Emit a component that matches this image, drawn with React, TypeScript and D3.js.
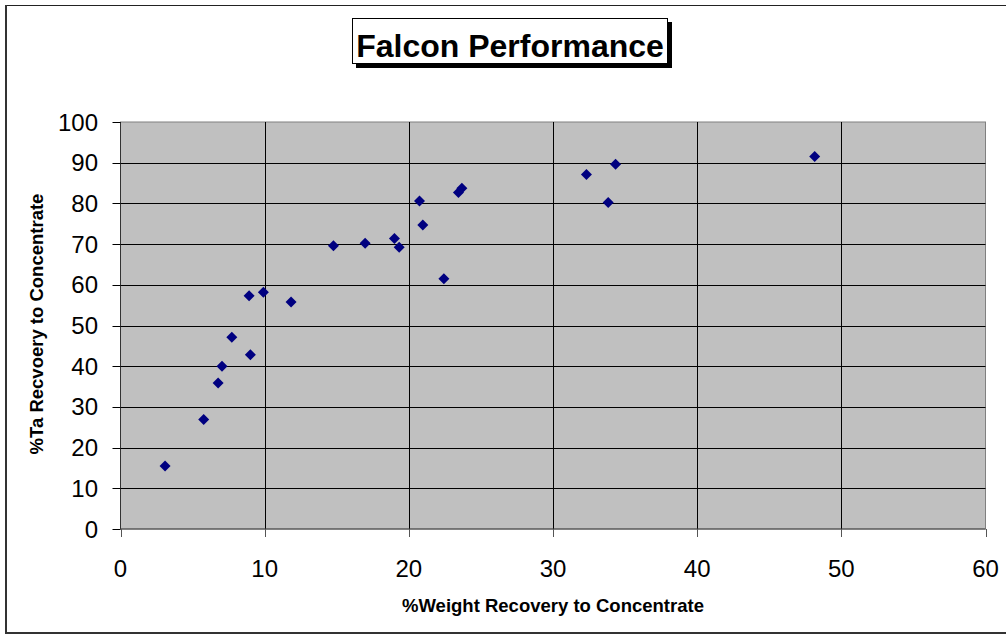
import * as d3 from 'd3';

const weightRecovery = [3.09, 5.77, 6.77, 7.04, 7.72, 9.01, 8.92, 9.91, 11.83, 14.77, 16.97, 19.0, 19.33, 20.74, 20.97, 22.43, 23.44, 23.68, 32.32, 34.34, 33.83, 48.15];
const taRecovery = [15.5, 26.9, 35.9, 40.0, 47.1, 42.8, 57.3, 58.2, 55.8, 69.6, 70.2, 71.4, 69.2, 80.6, 74.7, 61.5, 82.7, 83.7, 87.1, 89.6, 80.2, 91.5];
const xTicks = [0, 10, 20, 30, 40, 50, 60];
const yTicks = [0, 10, 20, 30, 40, 50, 60, 70, 80, 90, 100];

const W = 1006;
const H = 635;
const plot = { left: 120.5, right: 985.5, top: 122, bottom: 529 };

export default function App() {
  const x = d3.scaleLinear().domain([0, 60]).range([plot.left, plot.right]);
  const y = d3.scaleLinear().domain([0, 100]).range([plot.bottom, plot.top]);
  // square diamond marker
  const r = 5.5;
  const diamond = d3.line()([[0, -r], [r, 0], [0, r], [-r, 0], [0, -r]]) + 'Z';
  const font = 'Arial, "Liberation Sans", sans-serif';

  return (
    <svg width={W} height={H} style={{ position: 'absolute', left: 0, top: 0 }} fontFamily={font}>
      <rect x={0} y={0} width={W} height={H} fill="#fff" />
      {/* chart frame */}
      <line x1={5.5} x2={W} y1={5.5} y2={5.5} stroke="#222" />
      <line x1={6} x2={6} y1={5} y2={634} stroke="#333" strokeWidth={2} />
      <line x1={5} x2={W} y1={633} y2={633} stroke="#333" strokeWidth={2} />
      {/* plot area */}
      <rect x={plot.left} y={plot.top} width={plot.right - plot.left} height={plot.bottom - plot.top} fill="#c0c0c0" stroke="#808080" strokeWidth={1} />
      {yTicks.filter(t => t > 0 && t < 100).map(t => (
        <line key={'gy' + t} x1={plot.left} x2={plot.right} y1={Math.round(y(t)) + 0.5} y2={Math.round(y(t)) + 0.5} stroke="#000" strokeWidth={1} />
      ))}
      {xTicks.filter(t => t > 0 && t < 60).map(t => (
        <line key={'gx' + t} x1={Math.round(x(t)) + 0.5} x2={Math.round(x(t)) + 0.5} y1={plot.top} y2={plot.bottom} stroke="#000" strokeWidth={1} />
      ))}
      {/* axes */}
      <line x1={plot.left} x2={plot.left} y1={plot.top} y2={plot.bottom} stroke="#333" />
      <line x1={plot.left} x2={plot.right} y1={plot.bottom} y2={plot.bottom} stroke="#444" />
      {yTicks.map(t => (
        <g key={'yt' + t}>
          <line x1={plot.left - 8} x2={plot.left} y1={Math.round(y(t)) + 0.5} y2={Math.round(y(t)) + 0.5} stroke="#000" />
          <text x={98} y={y(t) + 8.5} textAnchor="end" fontSize={24}>{t}</text>
        </g>
      ))}
      {xTicks.map(t => (
        <g key={'xt' + t}>
          <line x1={Math.round(x(t)) + 0.5} x2={Math.round(x(t)) + 0.5} y1={plot.bottom} y2={plot.bottom + 8} stroke="#555" />
          <text x={x(t)} y={577} textAnchor="middle" fontSize={24}>{t}</text>
        </g>
      ))}
      {/* points */}
      {weightRecovery.map((w, i) => (
        <path key={'p' + i} d={diamond} transform={`translate(${x(w)},${y(taRecovery[i])})`} fill="#000080" />
      ))}
      {/* axis titles */}
      <text x={553} y={612} textAnchor="middle" fontSize={18.5} fontWeight="bold">%Weight Recovery to Concentrate</text>
      <text transform={`translate(43,324) rotate(-90)`} textAnchor="middle" fontSize={18.5} fontWeight="bold">%Ta Recvoery to Concentrate</text>
      {/* title box */}
      <rect x={356} y={22} width={316} height={46} fill="#000" />
      <rect x={352.5} y={18.5} width={315} height={45} fill="#fff" stroke="#000" />
      <text x={510} y={57} textAnchor="middle" fontSize={32} fontWeight="bold">Falcon Performance</text>
    </svg>
  );
}
